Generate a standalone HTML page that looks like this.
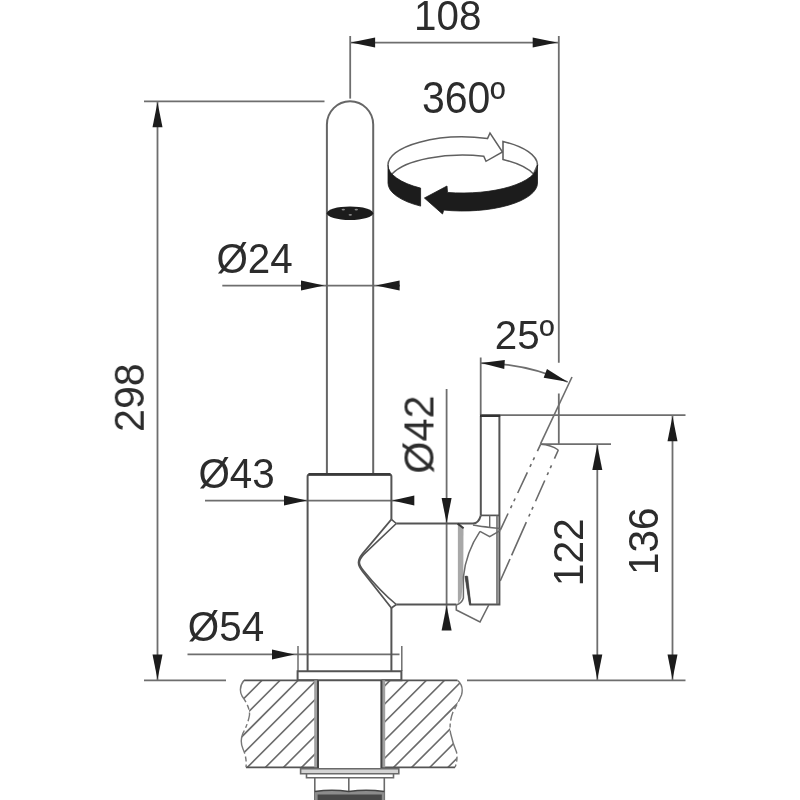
<!DOCTYPE html>
<html lang="en">
<head>
<meta charset="utf-8">
<title>Technical drawing</title>
<style>
html,body{margin:0;padding:0;background:#fff;}
body{width:800px;height:800px;overflow:hidden;}
svg{display:block;}
</style>
</head>
<body>
<svg width="800" height="800" viewBox="0 0 800 800">
<rect width="800" height="800" fill="#fff"/>
<g id="dims" fill="none">
<line x1="144" y1="101.4" x2="324.5" y2="101.4" stroke="#6e6e6e" stroke-width="1.8"/>
<line x1="157.5" y1="101.4" x2="157.5" y2="680.2" stroke="#6e6e6e" stroke-width="1.8"/>
<line x1="144" y1="680.3" x2="226" y2="680.3" stroke="#6e6e6e" stroke-width="1.8"/>
<polygon points="157.50,102.20 162.50,127.20 152.50,127.20" fill="#1c1c1c"/>
<polygon points="157.50,679.60 152.50,654.60 162.50,654.60" fill="#1c1c1c"/>
<line x1="350.2" y1="36" x2="350.2" y2="98.6" stroke="#6e6e6e" stroke-width="1.8"/>
<line x1="350.2" y1="42.6" x2="558.8" y2="42.6" stroke="#6e6e6e" stroke-width="1.8"/>
<line x1="558.8" y1="36" x2="558.8" y2="362.7" stroke="#6e6e6e" stroke-width="1.8"/>
<line x1="558.8" y1="393.5" x2="558.8" y2="444" stroke="#6e6e6e" stroke-width="1.8"/>
<polygon points="350.80,42.60 375.10,37.60 375.10,47.60" fill="#1c1c1c"/>
<polygon points="557.20,42.60 532.70,47.60 532.70,37.60" fill="#1c1c1c"/>
<line x1="222.3" y1="285.6" x2="400" y2="285.6" stroke="#6e6e6e" stroke-width="1.8"/>
<polygon points="324.20,285.60 301.00,290.60 301.00,280.60" fill="#1c1c1c"/>
<polygon points="375.80,285.60 399.60,280.60 399.60,290.60" fill="#1c1c1c"/>
<line x1="205" y1="500.6" x2="414" y2="500.6" stroke="#6e6e6e" stroke-width="1.8"/>
<polygon points="307.00,500.60 284.00,505.60 284.00,495.60" fill="#1c1c1c"/>
<polygon points="392.30,500.60 414.30,495.60 414.30,505.60" fill="#1c1c1c"/>
<line x1="187.5" y1="654.4" x2="399.5" y2="654.4" stroke="#6e6e6e" stroke-width="1.8"/>
<polygon points="294.50,654.40 272.00,659.40 272.00,649.40" fill="#1c1c1c"/>
<line x1="298" y1="646" x2="298" y2="671" stroke="#6e6e6e" stroke-width="1.5"/>
<line x1="401.8" y1="646" x2="401.8" y2="671" stroke="#6e6e6e" stroke-width="1.5"/>
<line x1="446.6" y1="389" x2="446.6" y2="630" stroke="#6e6e6e" stroke-width="1.8"/>
<polygon points="446.60,523.00 441.60,498.00 451.60,498.00" fill="#1c1c1c"/>
<polygon points="446.60,605.60 451.60,630.60 441.60,630.60" fill="#1c1c1c"/>
<line x1="480.5" y1="415.1" x2="685.5" y2="415.1" stroke="#6e6e6e" stroke-width="1.8"/>
<line x1="672.5" y1="415.4" x2="672.5" y2="680.2" stroke="#6e6e6e" stroke-width="1.8"/>
<polygon points="672.50,416.20 677.50,441.20 667.50,441.20" fill="#1c1c1c"/>
<polygon points="672.50,679.60 667.50,654.60 677.50,654.60" fill="#1c1c1c"/>
<line x1="540.5" y1="444.2" x2="611" y2="444.2" stroke="#6e6e6e" stroke-width="1.8"/>
<line x1="597.3" y1="444.2" x2="597.3" y2="680.2" stroke="#6e6e6e" stroke-width="1.8"/>
<polygon points="597.30,445.00 602.30,470.00 592.30,470.00" fill="#1c1c1c"/>
<polygon points="597.30,679.60 592.30,654.60 602.30,654.60" fill="#1c1c1c"/>
<line x1="467" y1="680.3" x2="685.5" y2="680.3" stroke="#6e6e6e" stroke-width="1.8"/>
<line x1="480.7" y1="357.5" x2="480.7" y2="415.3" stroke="#6e6e6e" stroke-width="1.8"/>
<line x1="572" y1="377" x2="540.5" y2="443.9" stroke="#6e6e6e" stroke-width="1.6"/>
<path d="M480.5,363.1 A210.4,210.4 0 0 1 567.75,382.04" stroke="#6e6e6e" stroke-width="1.7" fill="none"/>
<polygon points="481.10,363.10 504.83,359.92 504.28,369.10" fill="#1c1c1c"/>
<polygon points="567.25,381.84 543.67,377.69 546.97,369.11" fill="#1c1c1c"/>
</g>
<g id="faucet" fill="none">
<path d="M326.9,474 V124.6 A23.15,23.3 0 0 1 373.2,124.6 V474" stroke="#666" stroke-width="2.0" fill="none"/>
<ellipse cx="350" cy="213.3" rx="23.2" ry="6.7" fill="#1c1c1c"/>
<ellipse cx="343.3" cy="209.6" rx="1.7" ry="0.9" fill="#8a8a8a"/>
<ellipse cx="356.3" cy="209.6" rx="1.7" ry="0.9" fill="#8a8a8a"/>
<ellipse cx="350.3" cy="214.8" rx="1.7" ry="0.9" fill="#8a8a8a"/>
<path d="M307.6,671 V476.5 Q307.6,474.4 309.7,474.4 H389.3 Q391.4,474.4 391.4,476.5 V519.4" stroke="#545454" stroke-width="2.0" fill="none"/>
<line x1="308.5" y1="474.4" x2="390.5" y2="474.4" stroke="#3a3a3a" stroke-width="2.6"/>
<path d="M391.4,608 V671" stroke="#545454" stroke-width="2.0" fill="none"/>
<path d="M297.6,680.2 V671.2 H401.4 V680.2 Z" stroke="#545454" stroke-width="2.0" fill="none"/>
<path d="M391.4,519.4 L362.6,553.6 Q358.5,558.7 358.5,562.5 Q358.5,566.3 362.6,571.4 L391.4,608" stroke="#545454" stroke-width="1.7" fill="none"/>
<path d="M396.3,523.5 L363.6,554.6 Q359.4,559.2 359.4,562.5 Q359.4,565.6 363.4,570.4 Q380,591 396.3,604.5" stroke="#545454" stroke-width="1.6" fill="none"/>
<path d="M391.4,519.4 L396.3,523.5 M391.4,608 L396.3,604.5" stroke="#545454" stroke-width="1.6" fill="none"/>
<path d="M396.3,523.4 H473 Q478.6,523.4 480.8,515.4" stroke="#545454" stroke-width="2.0" fill="none"/>
<path d="M396.3,604.6 H456.5" stroke="#545454" stroke-width="2.0" fill="none"/>
<path d="M457.9,523.5 L463.5,528 L463.3,575 L461.5,598 L457.9,604 Z" stroke="none" stroke-width="0" fill="#a8a8a8"/>
<path d="M457.6,523.6 L463.6,528.3" stroke="#3a3a3a" stroke-width="2.0" fill="none"/>
<path d="M480.8,515.4 V415.8 M499.4,415.8 V604.6 H470.3 L466,576" stroke="#545454" stroke-width="2.0" fill="none"/>
<line x1="480" y1="415.8" x2="500.2" y2="415.8" stroke="#333" stroke-width="2.4"/>
<line x1="480.8" y1="515.4" x2="499.4" y2="515.4" stroke="#545454" stroke-width="1.7"/>
<line x1="497" y1="515.4" x2="497" y2="604" stroke="#6a6a6a" stroke-width="1.6"/>
<line x1="489.7" y1="515.4" x2="489.7" y2="527.5" stroke="#6a6a6a" stroke-width="1.4"/>
<path d="M473,525 Q477,526 500.5,528.6" stroke="#6a6a6a" stroke-width="1.5" fill="none"/>
<path d="M480,531.4 L489.7,536.6 L500.5,530.4" stroke="#6a6a6a" stroke-width="1.5" fill="none"/>
<path d="M480,531.4 Q466,552 463.4,577 L463.4,598 Q462,603 456.3,605" stroke="#6a6a6a" stroke-width="1.5" fill="none"/>
<path d="M464.9,576.3 L467.7,576.3 L470.8,604.6 L469.4,604.6 Z" stroke="#444" stroke-width="0.6" fill="#444"/>
<path d="M456.3,605 V610 L480,622 L488.7,605" stroke="#6a6a6a" stroke-width="1.6" fill="none"/>
<path d="M540.5,444.3 Q551,444.8 558.3,450" stroke="#6a6a6a" stroke-width="1.5" fill="none"/>
<path d="M540.6,444.3 L500.4,529.8" stroke="#6a6a6a" stroke-width="1.6" fill="none" stroke-dasharray="7.5 6.9 3 4.6 3 6.1 22.7 6.1 3 4.6 3 6 30"/>
<path d="M558.3,450 L500.2,581" stroke="#6a6a6a" stroke-width="1.6" fill="none" stroke-dasharray="9.5 7.3 3 4.6 3 6 22.7 6.1 3 4.6 3 6.1 36.3 4 30"/>
</g>
<defs>
<clipPath id="cl"><path d="M244,680.3 Q238,688 242,696 Q250,707 249.5,715 Q248,724 243,733 Q239.5,741 243,749 Q247,758 246,767.3 H317.8 V680.3 Z"/></clipPath>
<clipPath id="cr"><path d="M457.5,680.3 Q464,686 461.5,695 Q458,703 453,712 Q449,722 450.5,733 Q453,744 456.5,752 Q458,760 455,767.3 H381.5 V680.3 Z"/></clipPath>
</defs>
<g clip-path="url(#cl)" stroke="#6a6a6a" stroke-width="1.6">
<line x1="212.00" y1="676" x2="116.00" y2="772"/>
<line x1="230.10" y1="676" x2="134.10" y2="772"/>
<line x1="248.20" y1="676" x2="152.20" y2="772"/>
<line x1="266.30" y1="676" x2="170.30" y2="772"/>
<line x1="284.40" y1="676" x2="188.40" y2="772"/>
<line x1="302.50" y1="676" x2="206.50" y2="772"/>
<line x1="320.60" y1="676" x2="224.60" y2="772"/>
<line x1="338.70" y1="676" x2="242.70" y2="772"/>
<line x1="356.80" y1="676" x2="260.80" y2="772"/>
<line x1="374.90" y1="676" x2="278.90" y2="772"/>
<line x1="393.00" y1="676" x2="297.00" y2="772"/>
<line x1="411.10" y1="676" x2="315.10" y2="772"/>
<line x1="429.20" y1="676" x2="333.20" y2="772"/>
<line x1="447.30" y1="676" x2="351.30" y2="772"/>
<line x1="465.40" y1="676" x2="369.40" y2="772"/>
<line x1="483.50" y1="676" x2="387.50" y2="772"/>
<line x1="501.60" y1="676" x2="405.60" y2="772"/>
<line x1="519.70" y1="676" x2="423.70" y2="772"/>
<line x1="537.80" y1="676" x2="441.80" y2="772"/>
<line x1="555.90" y1="676" x2="459.90" y2="772"/>
<line x1="574.00" y1="676" x2="478.00" y2="772"/>
<line x1="592.10" y1="676" x2="496.10" y2="772"/>
<line x1="610.20" y1="676" x2="514.20" y2="772"/>
</g>
<g clip-path="url(#cr)" stroke="#6a6a6a" stroke-width="1.6">
<line x1="213.50" y1="676" x2="117.50" y2="772"/>
<line x1="231.60" y1="676" x2="135.60" y2="772"/>
<line x1="249.70" y1="676" x2="153.70" y2="772"/>
<line x1="267.80" y1="676" x2="171.80" y2="772"/>
<line x1="285.90" y1="676" x2="189.90" y2="772"/>
<line x1="304.00" y1="676" x2="208.00" y2="772"/>
<line x1="322.10" y1="676" x2="226.10" y2="772"/>
<line x1="340.20" y1="676" x2="244.20" y2="772"/>
<line x1="358.30" y1="676" x2="262.30" y2="772"/>
<line x1="376.40" y1="676" x2="280.40" y2="772"/>
<line x1="394.50" y1="676" x2="298.50" y2="772"/>
<line x1="412.60" y1="676" x2="316.60" y2="772"/>
<line x1="430.70" y1="676" x2="334.70" y2="772"/>
<line x1="448.80" y1="676" x2="352.80" y2="772"/>
<line x1="466.90" y1="676" x2="370.90" y2="772"/>
<line x1="485.00" y1="676" x2="389.00" y2="772"/>
<line x1="503.10" y1="676" x2="407.10" y2="772"/>
<line x1="521.20" y1="676" x2="425.20" y2="772"/>
<line x1="539.30" y1="676" x2="443.30" y2="772"/>
<line x1="557.40" y1="676" x2="461.40" y2="772"/>
<line x1="575.50" y1="676" x2="479.50" y2="772"/>
<line x1="593.60" y1="676" x2="497.60" y2="772"/>
<line x1="611.70" y1="676" x2="515.70" y2="772"/>
</g>
<g id="counter" fill="none">
<path d="M244,680.3 H317.8 M246,767.3 H317.8" stroke="#545454" stroke-width="1.8" fill="none"/>
<path d="M381.5,680.3 H457.5 M381.5,767.3 H455" stroke="#545454" stroke-width="1.8" fill="none"/>
<path d="M244,680.3 Q238,688 242,696 Q250,707 249.5,715 Q248,724 243,733 Q239.5,741 243,749 Q247,758 246,767.3" stroke="#777" stroke-width="1.4" fill="none" stroke-dasharray="24 3 5 3 9 3 4 3"/>
<path d="M457.5,680.3 Q464,686 461.5,695 Q458,703 453,712 Q449,722 450.5,733 Q453,744 456.5,752 Q458,760 455,767.3" stroke="#777" stroke-width="1.4" fill="none" stroke-dasharray="24 3 5 3 9 3 4 3"/>
<rect x="314.2" y="680.3" width="3.4" height="87" fill="#a0a0a0"/>
<rect x="381.8" y="680.3" width="3.4" height="87" fill="#a0a0a0"/>
<line x1="318" y1="680.3" x2="318" y2="768" stroke="#454545" stroke-width="2.0"/>
<line x1="381.4" y1="680.3" x2="381.4" y2="768" stroke="#454545" stroke-width="2.0"/>
<path d="M300.6,768.8 H398.8 V773.8 H300.6 Z" stroke="#6a6a6a" stroke-width="1.6" fill="#d4d4d4"/>
<path d="M306.5,773.8 V777.8 H393.5 V773.8" stroke="#6a6a6a" stroke-width="1.6" fill="none"/>
<path d="M314.8,777.8 V800 M384.3,777.8 V800 M348.8,777.8 V791" stroke="#6a6a6a" stroke-width="1.6" fill="none"/>
<path d="M314.8,791.5 Q332,789 348.8,791.5 Q366,789 384.3,791.5 V800 H314.8 Z" stroke="none" stroke-width="0" fill="#8c8c8c"/>
<path d="M314.8,791.5 Q332,789 348.8,791.5 Q366,789 384.3,791.5" stroke="#444" stroke-width="1.6" fill="none"/>
<path d="M317.6,794.6 H381.8 V800 H317.6 Z" stroke="none" stroke-width="0" fill="#484848"/>
</g>
<g id="rot">
<path d="M388.0,165.0 A74.75,28.0 0 0 1 487.5,138.58 L490,133 L502.5,152 L486,161.3 L483.75,156.13 A74.75,28.0 0 0 0 392,173.96" stroke="#606060" stroke-width="1.5" fill="none"/>
<path d="M503,141.41 A74.75,28.0 0 0 1 537.5,165.0 L533.5,174 A74.75,28.0 0 0 0 503,159.41 Z" stroke="#606060" stroke-width="1.6" fill="#fff"/>
<path d="M388.0,165.0 A74.75,28.0 0 0 0 420.6,188.12 L420.6,206.12 A74.75,28.0 0 0 1 388.0,183.0 Z" stroke="#1c1c1c" stroke-width="0.8" fill="#1c1c1c"/>
<path d="M424.4,198 L447,186 L447.5,192.41 A74.75,28.0 0 0 0 537.5,165.0 L537.5,183.0 A74.75,28.0 0 0 1 443.75,210.08 L442.5,214 Z" stroke="#1c1c1c" stroke-width="0.8" fill="#1c1c1c"/>
</g>
<g id="txt" font-family="'Liberation Sans', sans-serif" opacity="0.97">
<text transform="translate(414,29.9) scale(0.985,1.04)" font-size="41" fill="#262626">108</text>
<text transform="translate(422,112.6) scale(1.0,1.07)" font-size="41" fill="#262626">360º</text>
<text transform="translate(216.4,272.7) scale(0.985,1.04)" font-size="41" fill="#262626">Ø24</text>
<text transform="translate(198.4,488) scale(0.985,1.04)" font-size="41" fill="#262626">Ø43</text>
<text transform="translate(187.8,640.7) scale(0.985,1.04)" font-size="41" fill="#262626">Ø54</text>
<text transform="translate(494.7,349.0) scale(0.985,1.0036)" font-size="41" fill="#262626">25º</text>
<text transform="translate(143.3,432) rotate(-90) scale(1.005,1.04)" font-size="41" fill="#262626">298</text>
<text transform="translate(433,473.7) rotate(-90) scale(1.01,1.04)" font-size="41" fill="#262626">Ø42</text>
<text transform="translate(583.1,586.3) rotate(-90) scale(0.995,1.04)" font-size="41" fill="#262626">122</text>
<text transform="translate(658.3,575) rotate(-90) scale(0.985,1.04)" font-size="41" fill="#262626">136</text>
</g>
</svg>
</body>
</html>
